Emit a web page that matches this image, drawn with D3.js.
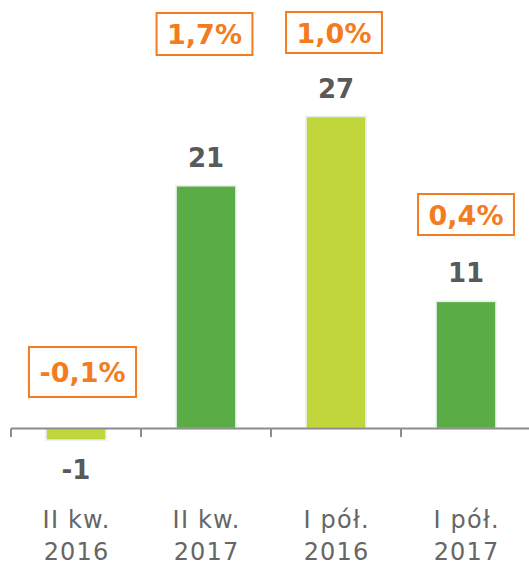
<!DOCTYPE html>
<html>
<head>
<meta charset="utf-8">
<script src="https://cdn.jsdelivr.net/npm/d3@7"></script>
<style>
  html, body { margin: 0; padding: 0; background: #fff; }
  svg { display: block; }
</style>
</head>
<body>
<svg id="chart" width="529" height="566"></svg>
<script>
// ---- data ----
const categories = ["II kw.|2016", "II kw.|2017", "I pół.|2016", "I pół.|2017"];
const values = [-1, 21, 27, 11];
const seriesColorKeys = ["lime", "green", "lime", "green"];
const changeLabels = ["-0,1%", "1,7%", "1,0%", "0,4%"];
const valueLabels = ["-1", "21", "27", "11"];

// ---- layout ----
const W = 529, H = 566;
const colors = { green: "#5aac44", lime: "#c0d63a" };
const orange = "#f47c20";
const boxCenterY = [372, 34, 32.5, 214.5];   // annotation box centres (px)
const boxDx = [6.5, -1.5, -2, 0];             // annotation box x offsets (px)
const boxH = [50, 42, 41, 41];

const svg = d3.select("#chart");

const x = d3.scaleBand()
  .domain(categories)
  .range([11, 531])
  .paddingInner(0.54)
  .paddingOuter(0.27);

const y = d3.scaleLinear()
  .domain([0, 27])
  .range([428.5, 116.5]);

// bars
svg.append("g").selectAll("rect")
  .data(values)
  .join("rect")
  .attr("x", (d, i) => x(categories[i]))
  .attr("width", x.bandwidth())
  .attr("y", d => Math.min(y(d), y(0)))
  .attr("height", d => Math.abs(y(d) - y(0)))
  .attr("fill", (d, i) => colors[seriesColorKeys[i]])
  .attr("stroke", "#e3eef1")
  .attr("stroke-width", 1.5);

// axis
const axis = d3.axisBottom(x).tickSize(0).tickFormat("");
const gAxis = svg.append("g").attr("transform", `translate(0,${y(0)})`).call(axis);
gAxis.select(".domain").remove();
gAxis.append("line")
  .attr("x1", 11).attr("x2", W)
  .attr("stroke", "#8c8c8c").attr("stroke-width", 2.2);
// tick marks at band boundaries
const boundaries = categories.map(c => x(c) - x.step() * x.paddingOuter());
gAxis.selectAll("line.tk")
  .data(boundaries)
  .join("line")
  .attr("class", "tk")
  .attr("x1", d => d).attr("x2", d => d)
  .attr("y1", 0).attr("y2", 8.5)
  .attr("stroke", "#8c8c8c").attr("stroke-width", 2);

// category labels
const catG = svg.append("g");
categories.forEach((c, i) => {
  const parts = c.split("|");
  const cx = x(c) + x.bandwidth() / 2;
  const t = catG.append("text")
    .attr("text-anchor", "middle")
    .attr("font-family", "DejaVu Sans, Verdana, sans-serif")
    .attr("font-size", 24)
    .attr("letter-spacing", 1.2)
    .attr("fill", "#666666");
  t.append("tspan").attr("x", cx + 0.6).attr("y", 528).text(parts[0]);
  t.append("tspan").attr("x", cx + 0.6).attr("y", 560).text(parts[1]);
});

// value labels
svg.append("g").selectAll("text")
  .data(values)
  .join("text")
  .attr("x", (d, i) => x(categories[i]) + x.bandwidth() / 2)
  .attr("y", d => d >= 0 ? y(d) - 19 : y(d) + 38.5)
  .attr("text-anchor", "middle")
  .attr("font-family", "DejaVu Sans, Verdana, sans-serif")
  .attr("font-weight", "bold")
  .attr("font-size", 26)
  .attr("fill", "#595959")
  .text((d, i) => valueLabels[i]);

// change annotation boxes
const annG = svg.append("g");
changeLabels.forEach((lab, i) => {
  const cx = x(categories[i]) + x.bandwidth() / 2 + boxDx[i];
  const cy = boxCenterY[i];
  const g = annG.append("g");
  const t = g.append("text")
    .attr("x", cx)
    .attr("y", cy + 10)
    .attr("text-anchor", "middle")
    .attr("font-family", "DejaVu Sans, Verdana, sans-serif")
    .attr("font-weight", "bold")
    .attr("font-size", 27)
    .attr("fill", orange)
    .text(lab);
  const bb = t.node().getBBox();
  const padX = 10.5;
  g.insert("rect", "text")
    .attr("x", bb.x - padX)
    .attr("y", cy - boxH[i] / 2)
    .attr("width", bb.width + 2 * padX)
    .attr("height", boxH[i])
    .attr("fill", "#fff")
    .attr("stroke", orange)
    .attr("stroke-width", 2);
});
</script>
</body>
</html>
